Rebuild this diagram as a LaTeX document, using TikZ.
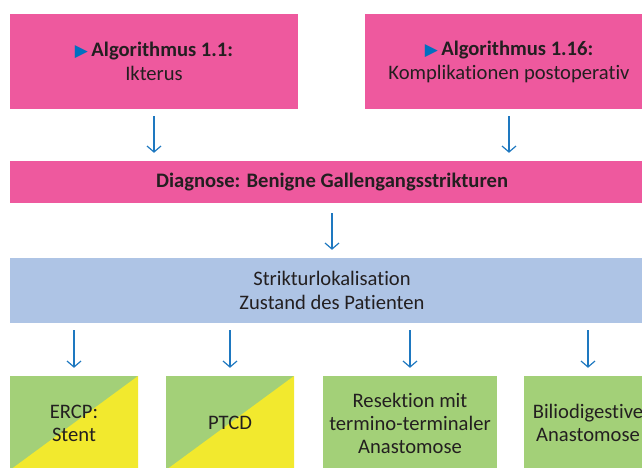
\documentclass[tikz,border=0pt]{standalone}
\usepackage{fontspec}
\setmainfont{Carlito}[Ligatures={NoCommon,NoRare}]
\newfontfamily\symfont{DejaVu Sans}
\usetikzlibrary{arrows.meta}
\definecolor{pinkc}{RGB}{238,89,158}
\definecolor{bluebox}{RGB}{174,196,229}
\definecolor{greenc}{RGB}{163,208,120}
\definecolor{yellowc}{RGB}{242,233,46}
\definecolor{arrowc}{RGB}{30,120,192}
\definecolor{markc}{RGB}{0,112,192}
\definecolor{textc}{RGB}{35,31,32}
\newcommand{\marker}{{\color{markc}\symfont\fontsize{17}{17}\selectfont ▶}\,}
\begin{document}
\begin{tikzpicture}[x=1pt,y=-1pt,
  box/.style={inner sep=0pt, align=center, text=textc,
    font=\fontsize{20.6}{24}\selectfont},
  pinkbox/.style={box, fill=pinkc},
  infobox/.style={box, fill=bluebox},
  splitbox/.style={box, fill=greenc, minimum width=128pt, minimum height=94pt,
    font=\fontsize{20.6}{23}\selectfont,
    path picture={\fill[yellowc] (path picture bounding box.south west) --
      (path picture bounding box.north east) |- cycle;}},
  greenbox/.style={box, fill=greenc, minimum height=94pt,
    font=\fontsize{20.6}{23}\selectfont},
  arr/.style={draw=arrowc, line width=1.2pt,
    -{Straight Barb[length=6pt,width=14pt,line width=1.2pt]}},
]
\useasboundingbox (0,0) rectangle (642,467);
\clip (0,0) rectangle (642,467);

% entry points
\node[pinkbox, minimum width=288pt, minimum height=95pt] (a1) at (154,61.5)
  {\marker\textbf{Algorithmus 1.1:}\\Ikterus};
\node[pinkbox, minimum width=288pt, minimum height=95pt] (a2) at (509,61.5)
  {\marker\textbf{Algorithmus 1.16:}\\Komplikationen postoperativ};

% diagnosis and assessment
\node[pinkbox, minimum width=644pt, minimum height=42pt] (diag) at (332,182)
  {\textbf{Diagnose: Benigne Gallengangsstrikturen}};
\node[infobox, minimum width=644pt, minimum height=65pt] (loc) at (332,290.5)
  {Strikturlokalisation\\Zustand des Patienten};

% treatment options
\node[splitbox] (t1) at (74,423) {ERCP:\\Stent};
\node[splitbox] (t2) at (230,423) {PTCD};
\node[greenbox, minimum width=174pt] (t3) at (410,423)
  {Resektion mit\\termino-terminaler\\Anastomose};
\node[greenbox, minimum width=128pt] (t4) at (588,423)
  {Biliodigestive\\Anastomose};

% connectors
\draw[arr, shorten <=7pt, shorten >=8pt] (a1.south) -- (a1.south |- diag.north);
\draw[arr, shorten <=7pt, shorten >=8pt] (a2.south) -- (a2.south |- diag.north);
\draw[arr, shorten <=10pt, shorten >=8pt] (diag.south) -- (loc.north);
\foreach \t in {t1,t2,t3,t4}
  \draw[arr, shorten <=7pt, shorten >=8pt] (\t.north |- loc.south) -- (\t.north);
\end{tikzpicture}
\end{document}
